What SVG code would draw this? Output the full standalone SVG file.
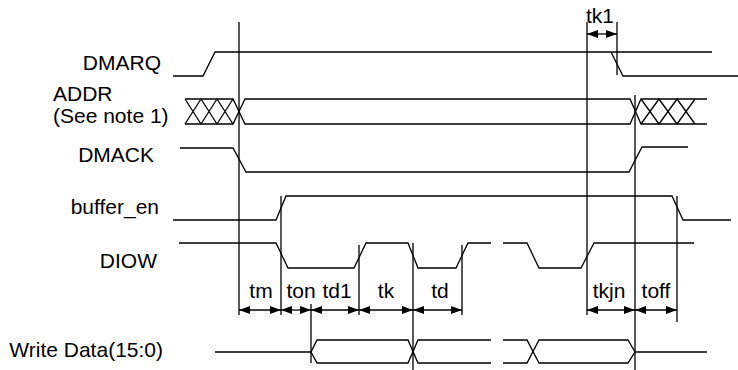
<svg xmlns="http://www.w3.org/2000/svg" width="738" height="370" viewBox="0 0 738 370">
  <defs>
    <style>
      .w { fill: none; stroke: #000; stroke-width: 1.3; stroke-linejoin: miter; }
      .g { fill: none; stroke: #000; stroke-width: 1.3; }
      .d { fill: none; stroke: #000; stroke-width: 1.3; marker-start: url(#ah); marker-end: url(#ah); }
      text { font-family: "Liberation Sans", Arial, Helvetica, sans-serif; font-size: 21px; fill: #000; }
      .e { text-anchor: end; }
      .m { text-anchor: middle; }
    </style>
    <marker id="ah" markerUnits="userSpaceOnUse" markerWidth="11" markerHeight="8" refX="11" refY="4" orient="auto-start-reverse">
      <path d="M0,0 L11,4 L0,8 Z" fill="#000"/>
    </marker>
  </defs>
  <rect width="738" height="370" fill="#fff"/>

  <g id="dmarq">
    <text class="e" x="161" y="70">DMARQ</text>
    <path class="w" d="M173,76 H203 L215,52 H712"/>
    <path class="w" d="M611,52 L623,76 H738"/>
  </g>

  <g id="addr">
    <text x="53" y="101">ADDR</text>
    <text x="53" y="123">(See note 1)</text>
    <path class="w" d="M185,99 H233 L245,124 H630 L641,99 H707"/>
    <path class="w" d="M185,124 H233 L245,99 H630 L641,124 H707"/>
    <path class="w" d="M185,99 L201,124 M201,99 L185,124 M201,99 L217,124 M217,99 L201,124 M217,99 L233,124 M233,99 L217,124"/>
    <path class="w" d="M641,99 L659,124 M659,99 L641,124 M659,99 L677,124 M677,99 L659,124 M677,99 L695,124 M695,99 L677,124"/>
  </g>

  <g id="dmack">
    <text class="e" x="154" y="162">DMACK</text>
    <path class="w" d="M180,148 H233 L246,172 H629 L642,147 H688"/>
  </g>

  <g id="buffer_en">
    <text class="e" x="159" y="214">buffer_en</text>
    <path class="w" d="M173,220 H276 L286,196 H672 L683,220 H731"/>
  </g>

  <g id="diow">
    <text class="e" x="157" y="268">DIOW</text>
    <path class="w" d="M179,243 H276 L288,268 H354 L366,243 H408 L418,268 H456 L468,243 H491"/>
    <path class="w" d="M503,243 H527 L539,268 H581 L594,243 H694"/>
  </g>

  <g id="write_data">
    <text class="e" x="163" y="357">Write Data(15:0)</text>
    <path class="w" d="M215,352 H311 L317,340 H408 L418,363 H491"/>
    <path class="w" d="M311,352 L317,363 H408 L418,340 H491"/>
    <path class="w" d="M503,340 H527 L539,363 H628 L635,352 H707"/>
    <path class="w" d="M503,363 H527 L539,340 H628 L635,352"/>
  </g>

  <g id="connectors">
    <path class="g" d="M239,22 V315 M281,196 V315 M311,304 V363 M359,245 V315 M413,243 V370 M462,245 V315 M587,22 V315 M617,22 V75 M635,95 V370 M677,196 V322"/>
    <line class="d" x1="239" y1="310" x2="281" y2="310"/>
    <line class="d" x1="281" y1="310" x2="311" y2="310"/>
    <line class="d" x1="311" y1="310" x2="359" y2="310"/>
    <line class="d" x1="359" y1="310" x2="413" y2="310"/>
    <line class="d" x1="413" y1="310" x2="462" y2="310"/>
    <line class="d" x1="587" y1="310" x2="635" y2="310"/>
    <line class="d" x1="635" y1="310" x2="677" y2="310"/>
    <line class="d" x1="587" y1="34" x2="617" y2="34"/>
    <text class="m" x="261" y="298">tm</text>
    <text class="m" x="301" y="298">ton</text>
    <text class="m" x="337" y="298">td1</text>
    <text class="m" x="386" y="298">tk</text>
    <text class="m" x="440" y="298">td</text>
    <text class="m" x="609" y="298">tkjn</text>
    <text class="m" x="656" y="298">toff</text>
    <text class="m" x="600" y="23">tk1</text>
  </g>
</svg>
